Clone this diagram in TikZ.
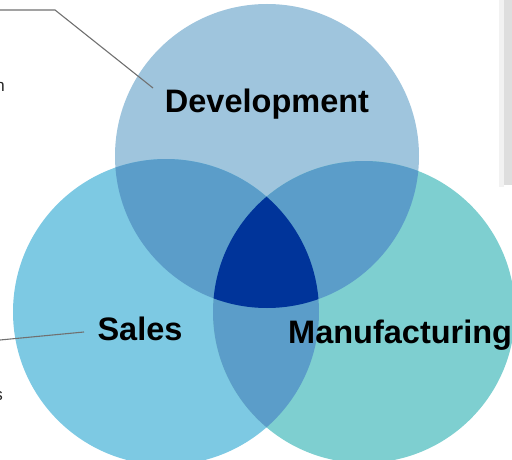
\documentclass[tikz,border=0pt]{standalone}
\usepackage{fontspec}
\setmainfont{Liberation Sans}
\usepackage{tikz}
\usetikzlibrary{positioning,calc}

\definecolor{devblue}{HTML}{9FC5DD}
\definecolor{salesblue}{HTML}{7DC9E3}
\definecolor{mfgteal}{HTML}{7ECFD0}
\definecolor{pairblue}{HTML}{5B9DC9}
\definecolor{coreblue}{HTML}{00349A}
\definecolor{leadgray}{HTML}{707070}

\begin{document}
\begin{tikzpicture}[x=1pt, y=-1pt]
  \tikzstyle{area}=[inner sep=0pt, font=\fontsize{32.5}{32.5}\selectfont\bfseries, text=black]
  \tikzstyle{frag}=[inner sep=0pt, font=\fontsize{17}{17}\selectfont, text=black!85]
  \tikzstyle{leader}=[draw=leadgray, line width=1.1pt]
  \clip (0,0) rectangle (512,460);

  % circle centres
  \coordinate (dev) at (267,156);
  \coordinate (sales) at (166,312);
  \coordinate (mfg) at (364,312);

  % side panel shadow at the right edge
  \fill[black!5] (499,0) rectangle (504,187);
  \fill[black!13] (504,0) rectangle (512,185);

  \fill[devblue] (dev) circle[radius=152pt];
  \fill[salesblue] (sales) circle[radius=153pt];
  \fill[mfgteal] (mfg) circle[radius=151pt];

  % pairwise overlaps
  \begin{scope}
    \clip (dev) circle[radius=152pt];
    \fill[pairblue] (sales) circle[radius=153pt];
    \fill[pairblue] (mfg) circle[radius=151pt];
  \end{scope}
  \begin{scope}
    \clip (sales) circle[radius=153pt];
    \fill[pairblue] (mfg) circle[radius=151pt];
  \end{scope}
  % core
  \begin{scope}
    \clip (dev) circle[radius=152pt];
    \clip (sales) circle[radius=153pt];
    \fill[coreblue] (mfg) circle[radius=151pt];
  \end{scope}

  \node[area, anchor=base] (devlbl) at (267,113) {Development};
  \node[area, anchor=base] (saleslbl) at (140,340) {Sales};
  \node[area, anchor=base west] (mfglbl) at (288,343) {Manufacturing};

  \node[frag, anchor=base east] (devnote) at (5,92) {n};
  \node[frag, anchor=base east] (salesnote) at (3,400) {s};

  \coordinate (devfree) at (0,10);
  \coordinate (devbend) at (55,10);
  \coordinate (devtip) at (153,88);
  \coordinate (salesfree) at (0,340);
  \coordinate (salestip) at (84,332);
  \coordinate (mfgfree) at (514,334);

  \draw[leader] (devfree) -- (devbend) -- (devtip);
  \draw[leader] (salesfree) -- (salestip);
  \draw[leader] (mfglbl.east) -- (mfgfree);
\end{tikzpicture}
\end{document}
